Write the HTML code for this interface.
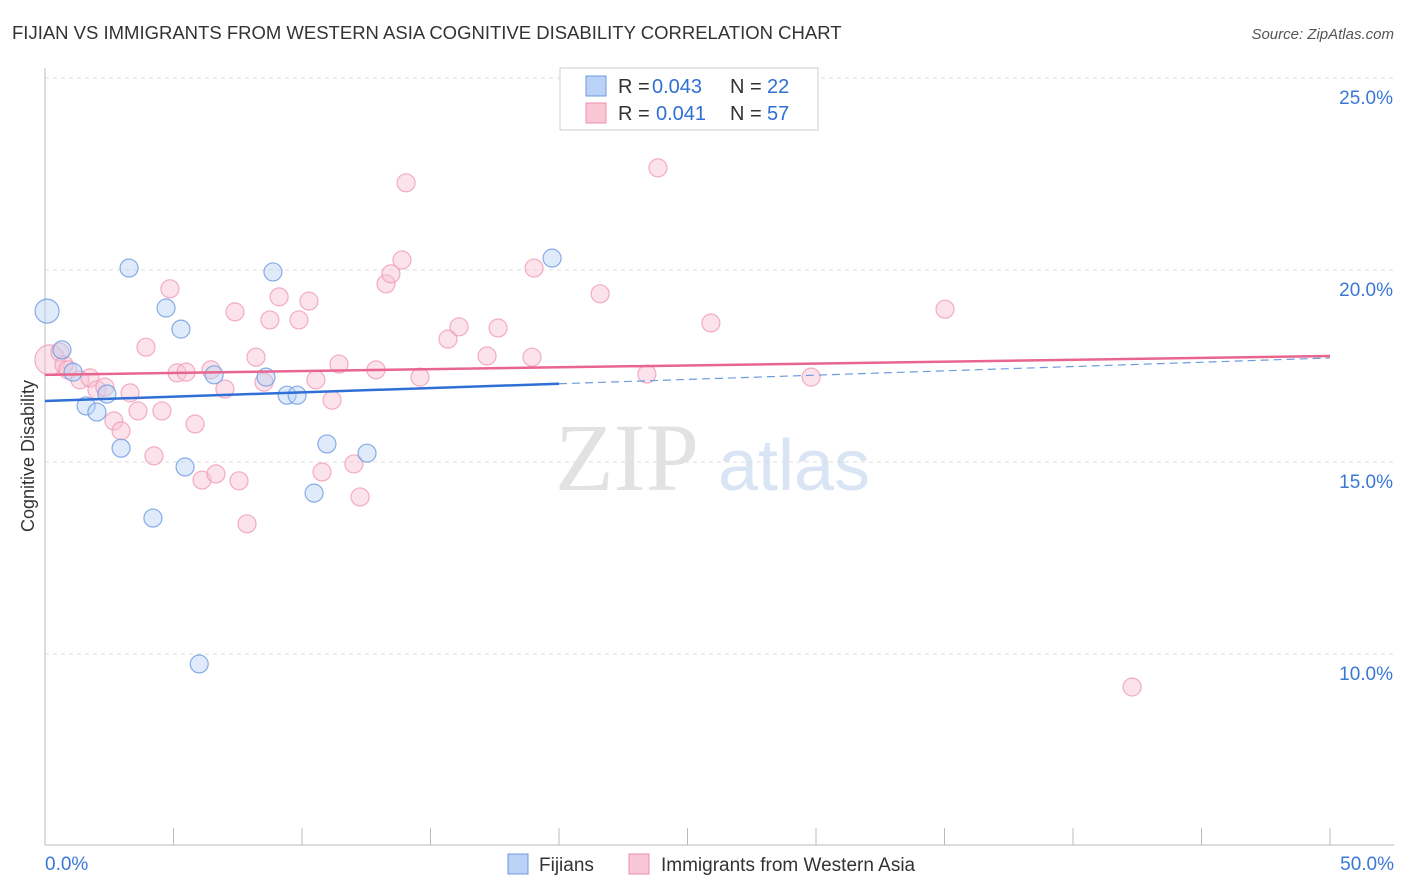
<!DOCTYPE html>
<html><head><meta charset="utf-8"><style>
body{margin:0;background:#fff;font-family:"Liberation Sans",sans-serif;}
#wrap{position:relative;width:1406px;height:892px;overflow:hidden}
</style></head><body>
<div id="wrap">
<svg id="svg" width="1406" height="892" xmlns="http://www.w3.org/2000/svg">
<text x="12" y="39" font-size="18.5" fill="#333">FIJIAN VS IMMIGRANTS FROM WESTERN ASIA COGNITIVE DISABILITY CORRELATION CHART</text>
<text x="1394" y="39" font-size="15" fill="#555" font-style="italic" text-anchor="end">Source: ZipAtlas.com</text>
<text x="555" y="490" font-size="96" fill="#e2e2e2" font-family="Liberation Serif,serif">ZIP</text>
<text x="718" y="490" font-size="72" fill="#d9e4f4">atlas</text>
<text x="34" y="456" font-size="18" fill="#333" text-anchor="middle" transform="rotate(-90 34 456)">Cognitive Disability</text>
<g id="grid"></g><g id="pts"></g><g id="lines"></g>
<rect x="560" y="68" width="258" height="62" fill="#fff" stroke="#ccc"/>
<rect x="586" y="76" width="20" height="20" fill="#b9d2f5" stroke="#6d9be0"/>
<rect x="586" y="103" width="20" height="20" fill="#f9c6d5" stroke="#ec8fae"/>
<text x="618" y="93" font-size="20" fill="#333">R =</text>
<text x="652" y="93" font-size="20" fill="#2f6fd6">0.043</text>
<text x="730" y="93" font-size="20" fill="#333">N =</text>
<text x="767" y="93" font-size="20" fill="#2f6fd6">22</text>
<text x="618" y="120" font-size="20" fill="#333">R =</text>
<text x="656" y="120" font-size="20" fill="#2f6fd6">0.041</text>
<text x="730" y="120" font-size="20" fill="#333">N =</text>
<text x="767" y="120" font-size="20" fill="#2f6fd6">57</text>
<rect x="508" y="854" width="20" height="20" fill="#b9d2f5" stroke="#6d9be0"/>
<text x="539" y="871" font-size="19" fill="#333">Fijians</text>
<rect x="629" y="854" width="20" height="20" fill="#f9c6d5" stroke="#ec8fae"/>
<text x="661" y="871" font-size="19" fill="#333">Immigrants from Western Asia</text>
<text x="45" y="870" font-size="19" fill="#3a78d6">0.0%</text>
<text x="1394" y="870" font-size="19" fill="#3a78d6" text-anchor="end">50.0%</text>
</svg>
</div>
<script>
const yTicks=[25,20,15,10];
const yTickLabels=["25.0%","20.0%","15.0%","10.0%"];
const fijX=[0.08,0.66,1.09,1.60,2.02,2.41,2.96,3.27,4.20,4.71,5.29,5.45,6.00,6.58,8.60,8.87,9.42,9.81,10.47,10.97,12.53,19.73];
const fijY=[18.93,17.92,17.34,16.46,16.30,16.77,15.36,20.05,13.54,19.01,18.46,14.87,9.74,17.27,17.21,19.95,16.74,16.74,14.19,15.47,15.23,20.31];
const immX=[0.19,0.58,0.74,0.89,1.36,1.75,2.02,2.33,2.68,2.96,3.31,3.62,3.93,4.24,4.55,4.86,5.14,5.49,5.84,6.11,6.46,6.65,7.00,7.39,7.55,7.86,8.21,8.52,8.75,9.11,9.88,10.27,10.54,10.78,11.17,11.44,12.02,12.26,12.88,13.27,13.46,13.89,14.05,14.59,15.68,16.11,17.20,17.63,18.95,19.03,21.60,23.42,23.85,25.91,29.81,35.02,42.30];
const immY=[17.66,17.86,17.53,17.40,17.14,17.19,16.88,16.95,16.07,15.81,16.80,16.33,17.99,15.16,16.33,19.51,17.32,17.34,15.99,14.53,17.40,14.69,16.90,18.91,14.51,13.39,17.73,17.08,18.70,19.30,18.70,19.19,17.14,14.74,16.61,17.55,14.95,14.09,17.40,19.64,19.90,20.26,22.27,17.21,18.20,18.52,17.76,18.49,17.73,20.05,19.38,17.29,22.66,18.62,17.21,18.98,9.14];
const fijTrend=[16.59,17.71];
const immTrend=[17.27,17.76];
const NS="http://www.w3.org/2000/svg";
const xs=v=>45+v/50*1285, ys=v=>78+(25-v)/5*192;
function mk(t,a,p){const e=document.createElementNS(NS,t);for(const k in a)e.setAttribute(k,a[k]);document.getElementById(p).appendChild(e);return e;}
let e=mk('line',{x1:45,y1:68,x2:45,y2:845,stroke:'#bbb'},'grid');


e=mk('line',{x1:45,y1:845,x2:1394,y2:845,stroke:'#bbb'},'grid');


for(let i=1;i<=10;i++){e=mk('line',{x1:xs(i*5),y1:828,x2:xs(i*5),y2:845,stroke:'#bbb'},'grid');

}
yTicks.forEach((t,i)=>{e=mk('line',{x1:45,y1:ys(t),x2:1394,y2:ys(t),stroke:'#ddd','stroke-dasharray':'4 4'},'grid');


e=mk('text',{x:1393,y:ys(t)+26,'font-size':19,fill:'#3a78d6','text-anchor':'end'},'grid');e.textContent=yTickLabels[i];

});
function pts(X,Y,fill,stroke,name){X.forEach((x,i)=>{const r=(i==0&&name=='fijian-point')?12:(i==0?15:9);
e=mk('circle',{cx:xs(x),cy:ys(Y[i]),r:r,fill:fill,'fill-opacity':0.45,stroke:stroke,'stroke-opacity':0.8,'stroke-width':1.2},'pts');

});}
pts(immX,immY,'#f9c0d2','#ef9ab6','immigrant-point');
pts(fijX,fijY,'#b9d2f5','#6a98de','fijian-point');
const fy=x=>fijTrend[0]+(fijTrend[1]-fijTrend[0])*x/50;
e=mk('line',{x1:xs(0),y1:ys(fy(0)),x2:xs(20),y2:ys(fy(20)),stroke:'#2f6fd6','stroke-width':2.5},'lines');


e=mk('line',{x1:xs(20),y1:ys(fy(20)),x2:xs(50),y2:ys(fy(50)),stroke:'#6d9be0','stroke-width':1.2,'stroke-dasharray':'8 5'},'lines');


e=mk('line',{x1:xs(0),y1:ys(immTrend[0]),x2:xs(50),y2:ys(immTrend[1]),stroke:'#e8658f','stroke-width':2.5},'lines');


</script>
</body></html>
